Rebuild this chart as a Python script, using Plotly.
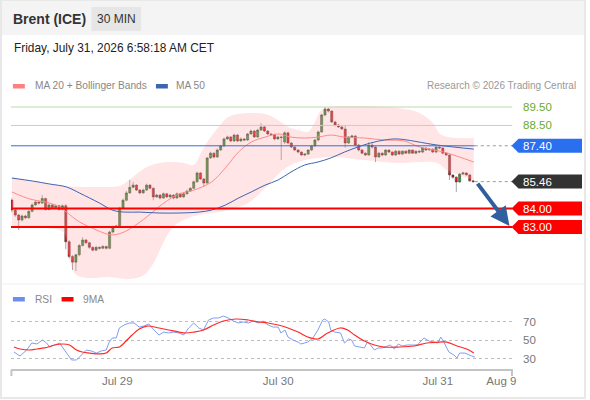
import plotly.graph_objects as go

# ---- candles (30 min bars, index 0 = first bar on the chart) ----
opens = [84.46, 83.92, 83.65, 83.38, 83.60, 83.50, 83.85, 84.20, 84.35, 84.30,
         84.55, 83.95, 84.20, 84.05, 84.15, 83.95, 84.15, 82.20, 81.40, 81.10,
         81.50, 82.00, 82.30, 82.15, 81.90, 81.75, 81.90, 81.85, 81.95, 81.85,
         82.73, 83.00, 83.05, 84.03, 84.45, 84.85, 85.15, 85.27, 85.00, 84.85,
         85.00, 85.27, 85.10, 84.63, 84.73, 84.57, 84.80, 84.63, 84.73, 84.57,
         84.80, 84.63, 84.80, 84.95, 85.10, 85.45, 85.93, 85.60, 85.38, 86.74,
         87.00, 86.79, 87.17, 87.39, 87.77, 87.88, 87.66, 87.98, 87.66, 87.77,
         87.71, 88.04, 88.20, 87.88, 88.25, 88.42, 88.20, 88.04, 88.00, 87.77,
         87.88, 87.60, 88.10, 87.55, 87.33, 87.17, 87.06, 86.90, 86.95, 87.17,
         87.39, 87.71, 88.15, 89.07, 89.39, 89.28, 88.69, 88.52, 88.42, 88.31,
         87.55, 87.88, 87.93, 87.44, 87.17, 87.00, 86.90, 87.44, 87.33, 86.79,
         87.00, 86.90, 87.17, 87.06, 86.90, 87.11, 86.95, 87.11, 87.00, 87.17,
         87.00, 87.11, 87.06, 87.28, 87.17, 87.22, 87.06, 87.33, 87.28, 87.00,
         86.90, 85.82, 85.70, 85.44, 85.87, 85.93, 85.82, 85.50]
highs = [84.55, 84.00, 83.70, 83.68, 83.66, 83.92, 84.28, 84.45, 84.42, 84.73,
         84.58, 84.28, 84.25, 84.22, 84.20, 84.22, 84.25, 82.30, 81.48, 81.55,
         82.08, 82.45, 82.36, 82.20, 81.95, 81.98, 81.95, 82.02, 81.98, 82.80,
         83.08, 83.12, 84.08, 84.55, 84.95, 85.55, 85.45, 85.32, 85.05, 85.08,
         85.35, 85.32, 85.15, 84.80, 84.78, 84.88, 84.85, 84.80, 84.78, 84.88,
         84.85, 84.86, 85.02, 85.15, 85.52, 86.00, 85.98, 85.65, 86.80, 87.08,
         87.05, 87.25, 87.45, 87.85, 87.95, 87.92, 88.05, 88.05, 87.85, 87.82,
         88.10, 88.28, 88.25, 88.32, 88.63, 88.48, 88.25, 88.10, 88.05, 87.95,
         87.95, 88.18, 88.15, 87.60, 87.38, 87.22, 87.10, 87.00, 87.22, 87.45,
         87.78, 88.22, 89.12, 89.50, 89.45, 89.32, 88.75, 88.58, 88.48, 88.52,
         87.93, 88.00, 87.98, 87.50, 87.22, 87.05, 87.60, 87.55, 87.38, 87.08,
         87.05, 87.22, 87.20, 87.10, 87.18, 87.15, 87.16, 87.15, 87.22, 87.20,
         87.15, 87.15, 87.33, 87.30, 87.27, 87.26, 87.38, 87.36, 87.33, 87.05,
         86.95, 85.85, 85.75, 85.92, 86.00, 85.97, 85.88, 85.55]
lows = [83.80, 83.55, 82.84, 83.30, 83.42, 83.45, 83.80, 84.15, 84.22, 84.25,
        83.88, 83.90, 84.00, 84.00, 83.88, 83.90, 81.80, 81.30, 80.67, 80.62,
        81.42, 81.95, 82.08, 81.82, 81.68, 81.70, 81.78, 81.80, 81.78, 81.80,
        82.65, 82.95, 83.00, 83.98, 84.40, 84.80, 85.10, 84.95, 84.78, 84.80,
        84.95, 85.05, 84.45, 84.58, 84.50, 84.52, 84.58, 84.58, 84.50, 84.52,
        84.58, 84.58, 84.75, 84.90, 85.05, 85.40, 85.55, 85.17, 85.35, 86.70,
        86.72, 86.75, 87.12, 87.35, 87.72, 87.60, 87.60, 87.60, 87.60, 87.65,
        87.66, 88.00, 87.82, 87.82, 88.20, 88.15, 87.98, 87.95, 87.70, 87.72,
        86.63, 87.50, 87.50, 87.28, 87.12, 87.00, 86.85, 86.84, 86.90, 87.12,
        87.35, 87.65, 88.10, 89.00, 89.20, 88.64, 88.45, 88.36, 88.26, 87.30,
        87.50, 87.82, 87.38, 87.10, 86.95, 86.85, 86.86, 87.25, 86.52, 86.75,
        86.84, 86.85, 87.00, 86.84, 86.85, 86.90, 86.90, 86.95, 86.95, 86.96,
        86.95, 87.00, 87.00, 87.12, 87.12, 87.00, 87.00, 87.22, 86.95, 86.85,
        85.55, 85.62, 84.90, 85.40, 85.82, 85.78, 85.45, 85.40]
closes = [83.92, 83.65, 83.38, 83.60, 83.50, 83.85, 84.20, 84.35, 84.30, 84.55,
          83.95, 84.20, 84.05, 84.15, 83.95, 84.15, 82.20, 81.40, 81.10, 81.50,
          82.00, 82.30, 82.15, 81.90, 81.75, 81.90, 81.85, 81.95, 81.85, 82.73,
          83.00, 83.05, 84.03, 84.45, 84.85, 85.15, 85.27, 85.00, 84.85, 85.00,
          85.27, 85.10, 84.63, 84.73, 84.57, 84.80, 84.63, 84.73, 84.57, 84.80,
          84.63, 84.80, 84.95, 85.10, 85.45, 85.93, 85.60, 85.38, 86.74, 87.00,
          86.79, 87.17, 87.39, 87.77, 87.88, 87.66, 87.98, 87.66, 87.77, 87.71,
          88.04, 88.20, 87.88, 88.25, 88.42, 88.20, 88.04, 88.00, 87.77, 87.88,
          87.85, 88.10, 87.55, 87.33, 87.17, 87.06, 86.90, 86.95, 87.17, 87.39,
          87.71, 88.15, 89.07, 89.39, 89.28, 88.69, 88.52, 88.42, 88.31, 87.55,
          87.88, 87.93, 87.44, 87.17, 87.00, 86.90, 87.44, 87.33, 86.79, 87.00,
          86.90, 87.17, 87.06, 86.90, 87.11, 86.95, 87.11, 87.00, 87.17, 87.00,
          87.11, 87.06, 87.28, 87.17, 87.22, 87.06, 87.33, 87.28, 87.00, 86.90,
          85.82, 85.70, 85.44, 85.87, 85.93, 85.82, 85.50, 85.46]
bars = list(range(len(closes)))

# ---- overlays (bar index, price) ----
bb_up_x = [0, 6.2, 16.2, 20.9, 26, 31.9, 34.8, 37.8, 40.7, 43.7, 47.2, 51, 54,
           56.3, 58.4, 61.4, 64.3, 70.2, 75.2, 78.5, 82, 85, 87.9, 90, 91.7,
           94.7, 102.7, 114.5, 120.4, 124.8, 127.7, 137.2]
bb_up = [85.71, 85.49, 85.22, 85.17, 85.17, 85.22, 85.55, 85.98, 86.30, 86.47,
         86.52, 86.47, 86.36, 87.06, 87.71, 88.42, 88.96, 89.17, 89.12, 88.85,
         88.42, 88.25, 88.15, 88.69, 89.28, 89.50, 89.55, 89.45, 89.23, 88.69,
         87.98, 87.82]
bb_lo_x = [0, 8.3, 14.2, 15.9, 17.1, 18.9, 23, 28.9, 34.8, 39.2, 42.2, 45.1,
           48.1, 52.5, 55.5, 64.3, 70.2, 75.2, 80.5, 85, 94.7, 104.7, 114.5,
           126.3, 129.2, 137.2]
bb_lo = [83.00, 82.95, 82.84, 82.57, 81.32, 80.45, 80.24, 80.29, 80.18, 80.40,
         81.10, 82.19, 83.05, 83.49, 83.65, 83.92, 84.30, 85.11, 86.09, 86.52,
         86.79, 86.63, 86.47, 86.47, 86.09, 85.55]
ma20_x = [0, 5.3, 11.2, 14.2, 16.2, 20.1, 24.5, 27.4, 29.8, 33.3, 36.3, 39.2,
          42.2, 45.1, 49.6, 54, 59.3, 63.4, 67.3, 71.1, 75.2, 79.1, 82.9, 87,
          90.9, 94.7, 98.8, 104.7, 110.6, 116.5, 121.2, 128.3, 137.2]
ma20 = [84.90, 84.52, 84.30, 84.08, 83.81, 83.27, 82.89, 82.67, 82.57, 82.73,
        83.05, 83.43, 83.87, 84.30, 84.79, 85.00, 85.44, 86.20, 87.06, 87.60,
        87.87, 88.04, 87.87, 87.82, 87.87, 87.98, 87.87, 87.82, 87.71, 87.66,
        87.33, 87.06, 86.52]
ma50_x = [0, 6.2, 11.2, 16.2, 20.1, 26, 29.8, 33.3, 37.8, 43.7, 49.6, 55.5,
          59.3, 63.4, 67.3, 71.1, 75.2, 79.1, 82.9, 87, 90.9, 94.7, 98.8,
          102.7, 106.5, 110.6, 114.5, 126.3, 137.2]
ma50 = [85.65, 85.49, 85.33, 85.17, 84.84, 84.30, 83.92, 83.81, 83.81, 83.76,
        83.76, 83.81, 83.92, 84.19, 84.57, 84.90, 85.27, 85.55, 85.98, 86.36,
        86.52, 86.74, 87.06, 87.33, 87.55, 87.71, 87.77, 87.44, 87.22]

# ---- RSI panel ----
rsi_x = [0.6, 2.4, 4.4, 5.9, 7.4, 9.1, 10.3, 11.2, 12.7, 14.2,
         15.0, 16.2, 17.7, 19.2, 20.6, 22.1, 23.6, 25.1, 26.5, 28.0,
         28.9, 29.8, 31.0, 31.9, 33.3, 34.8, 36.3, 37.8, 39.2, 40.7,
         42.2, 43.7, 45.1, 46.6, 48.1, 49.6, 51.0, 52.5, 54.0, 55.5,
         56.9, 58.4, 59.9, 61.4, 62.8, 64.3, 65.8, 67.3, 68.7, 70.2,
         71.7, 73.2, 74.6, 76.1, 77.6, 79.1, 79.9, 81.1, 82.0, 83.5,
         85.0, 85.8, 87.9, 89.4, 90.9, 92.3, 92.9, 94.1, 94.7, 95.9,
         97.6, 98.8, 100.0, 100.9, 101.8, 103.2, 104.7, 105.6, 106.5, 107.7,
         108.8, 110.0, 111.5, 112.4, 113.6, 114.8, 115.9, 117.4, 118.9, 120.4,
         122.4, 123.9, 125.4, 126.5, 127.4, 128.3, 129.8, 131.3, 132.2, 133.0,
         134.5, 135.7, 136.6, 137.5]
rsi = [37.0, 32.7, 39.2, 46.8, 45.7, 50.0, 46.8, 42.4, 44.6, 46.8,
       42.4, 35.9, 28.4, 28.4, 33.8, 39.2, 38.1, 35.9, 38.1, 39.2,
       47.8, 52.2, 52.2, 63.0, 66.2, 68.4, 68.4, 64.0, 65.1, 67.3,
       60.8, 55.4, 58.6, 57.6, 58.6, 57.6, 55.4, 63.0, 68.4, 63.0,
       60.8, 71.6, 73.8, 73.8, 75.9, 73.8, 70.5, 68.4, 69.5, 68.4,
       70.5, 68.4, 70.5, 66.2, 64.0, 64.0, 57.6, 60.8, 53.2, 50.0,
       47.8, 45.7, 47.8, 52.2, 60.8, 71.6, 72.7, 69.5, 60.8, 58.6,
       57.6, 46.8, 51.1, 50.0, 43.5, 42.4, 41.4, 47.8, 44.6, 39.2,
       41.4, 41.4, 43.5, 44.6, 40.3, 45.7, 43.5, 44.6, 44.6, 44.6,
       52.2, 48.9, 47.8, 46.8, 53.2, 47.8, 37.0, 33.8, 30.5, 35.9,
       35.9, 33.8, 32.7, 31.6]
rsi_ma_x = [0.6, 2.4, 5.3, 7.4, 9.7, 12.7, 15.0, 17.1, 19.2, 20.9, 23.0, 26.0,
            28.0, 29.8, 31.9, 33.9, 35.7, 37.8, 40.1, 43.7, 46.6, 49.6, 51.6,
            54.0, 56.9, 59.9, 62.8, 66.4, 70.2, 73.2, 76.1, 79.1, 82.0, 85.0,
            87.9, 90.9, 93.8, 97.6, 99.7, 101.8, 104.7, 107.7, 110.6, 114.5,
            119.5, 123.3, 127.1, 129.2, 132.2, 135.1, 137.2]
rsi_ma = [42.4, 40.3, 39.2, 40.3, 41.4, 44.6, 45.7, 44.6, 39.2, 37.0, 35.9, 34.9,
          35.9, 41.4, 42.4, 48.9, 55.4, 61.9, 65.1, 63.0, 60.8, 58.6, 57.6,
          58.6, 60.8, 66.2, 70.5, 72.7, 71.6, 69.5, 68.4, 66.2, 63.0, 58.6,
          53.2, 51.1, 57.6, 63.0, 60.8, 55.4, 48.9, 44.6, 42.4, 42.4,
          43.5, 46.8, 47.8, 47.8, 43.5, 40.3, 35.9]
rsi_levels = [30, 50, 70]

# ---- levels and axis labels ----
resist = [89.50, 88.50]
pivot = 87.40
last_price = 85.46
support = [84.00, 83.00]
tick_pos = [31.3, 79.1, 126.5, 145.4]
tick_text = ["Jul 29", "Jul 30", "Jul 31", "Aug 9"]

W, H = 590, 400
FONT = "Liberation Sans, Arial, sans-serif"
X0, X1 = -0.3, 148.7
LAST = 137.5


def px(x):
    return x / W


def py(y):
    return 1 - y / H


fig = go.Figure()

fig.add_trace(go.Scatter(x=bb_up_x, y=bb_up, mode="lines", line=dict(width=0, shape="spline"),
                         hoverinfo="skip", showlegend=False))
fig.add_trace(go.Scatter(x=bb_lo_x, y=bb_lo, mode="lines", line=dict(width=0, shape="spline"),
                         fill="tonexty", fillcolor="rgba(255,160,160,0.28)",
                         hoverinfo="skip", showlegend=False))
fig.add_trace(go.Scatter(x=ma20_x, y=ma20, mode="lines",
                         line=dict(color="#ff8a8a", width=1, shape="spline"), showlegend=False))
fig.add_trace(go.Scatter(x=ma50_x, y=ma50, mode="lines",
                         line=dict(color="#3d65b0", width=1, shape="spline"), showlegend=False))
fig.add_trace(go.Candlestick(
    x=bars, open=opens, high=highs, low=lows, close=closes,
    increasing=dict(fillcolor="#2e9a2e", line=dict(color="#333333", width=0.45)),
    decreasing=dict(fillcolor="#f01418", line=dict(color="#333333", width=0.45)),
    whiskerwidth=0, showlegend=False, hoverinfo="skip"))

fig.add_trace(go.Scatter(x=rsi_x, y=rsi, mode="lines", yaxis="y2",
                         line=dict(color="#7f9ef0", width=1), showlegend=False))
fig.add_trace(go.Scatter(x=rsi_ma_x, y=rsi_ma, mode="lines", yaxis="y2",
                         line=dict(color="#ff2a2a", width=1.2, shape="spline"), showlegend=False))

shapes = []
ann = []

# header band, frame, separator
shapes.append(dict(type="rect", xref="paper", yref="paper", x0=0, x1=1, y0=py(35), y1=1,
                   fillcolor="#f4f4f4", line=dict(width=0), layer="below"))
shapes.append(dict(type="rect", xref="paper", yref="paper", x0=px(92), x1=px(142), y0=py(31), y1=py(7),
                   fillcolor="#e6e6e6", line=dict(width=0), layer="below"))
shapes.append(dict(type="rect", xref="paper", yref="paper", x0=px(1), x1=px(589), y0=py(398), y1=py(0),
                   line=dict(color="#e8e8e8", width=2)))
shapes.append(dict(type="line", xref="paper", yref="paper", x0=px(2), x1=px(588), y0=py(284), y1=py(284),
                   line=dict(color="#f0f0f0", width=1)))

# resistance / support lines
for r in resist:
    shapes.append(dict(type="line", xref="x", yref="y", x0=X0, x1=X1, y0=r, y1=r,
                       line=dict(color="#b9dba4", width=1)))
    ann.append(dict(x=px(525), xref="paper", y=r, yref="y", text=f"{r:.2f}", showarrow=False,
                    xanchor="left", font=dict(color="#6aaa34", size=11.5, family=FONT)))
shapes.append(dict(type="line", xref="x", yref="y", x0=X0, x1=LAST, y0=pivot, y1=pivot,
                   line=dict(color="#2f6fe6", width=1)))
for lv in [pivot, last_price]:
    shapes.append(dict(type="line", xref="x", yref="y", x0=LAST, x1=X1, y0=lv, y1=lv,
                       line=dict(color="#999999", width=1, dash="dot")))
for s in support:
    shapes.append(dict(type="line", xref="x", yref="y", x0=X0, x1=X1, y0=s, y1=s,
                       line=dict(color="#ff0000", width=2)))

# price tags
half = 7 / 18.46
for lv, col in [(pivot, "#2a6ff0"), (last_price, "#333333"), (support[0], "#ff0000"), (support[1], "#ff0000")]:
    path = (f"M {px(515)},{lv} L {px(522)},{lv + half} L {px(586)},{lv + half} "
            f"L {px(586)},{lv - half} L {px(522)},{lv - half} Z")
    shapes.append(dict(type="path", xref="paper", yref="y", path=path, fillcolor=col, line=dict(width=0)))
    ann.append(dict(x=px(525), xref="paper", y=lv, yref="y", text=f"{lv:.2f}", showarrow=False,
                    xanchor="left", font=dict(color="white", size=11.5, family=FONT)))

# forecast arrow
ann.append(dict(x=147.8, y=83.05, xref="x", yref="y", ax=-33, ay=-44, text="", showarrow=True,
                arrowhead=2, arrowsize=0.95, arrowwidth=4, arrowcolor="#2f5f9e", standoff=0))

# rsi labels
for v in rsi_levels:
    ann.append(dict(x=px(525), xref="paper", y=v, yref="y2", text=str(v), showarrow=False,
                    xanchor="left", font=dict(color="#777777", size=11.5, family=FONT)))

# x axis end ticks
for xe in [11.5, 515.5]:
    shapes.append(dict(type="line", xref="paper", yref="paper", x0=px(xe), x1=px(xe), y0=py(370), y1=py(376),
                       line=dict(color="#c4c4c4", width=2)))

# legends
for x0, col, label, tx, ty in [(13, "#ff8080", "MA 20 + Bollinger Bands", 33, 86),
                               (157, "#3d65b0", "MA 50", 175, 86),
                               (13, "#6f8ff0", "RSI", 33, 299),
                               (62, "#ff0000", "9MA", 82, 299)]:
    shapes.append(dict(type="rect", xref="paper", yref="paper", x0=px(x0), x1=px(x0 + 12),
                       y0=py(ty + 2.5), y1=py(ty - 2), fillcolor=col, line=dict(width=0)))
    ann.append(dict(x=px(tx), y=py(ty), xref="paper", yref="paper", text=label, showarrow=False,
                    xanchor="left", yanchor="middle", font=dict(color="#888888", size=10.2, family=FONT)))

ann.append(dict(x=px(582), y=py(86), xref="paper", yref="paper", text="Research © 2026 Trading Central",
                showarrow=False, xanchor="right", yanchor="middle",
                font=dict(color="#999999", size=10, family=FONT)))
ann.append(dict(x=px(11), y=py(19), xref="paper", yref="paper", text="<b>Brent (ICE)</b>",
                showarrow=False, xanchor="left", yanchor="middle",
                font=dict(color="#333333", size=14, family=FONT)))
ann.append(dict(x=px(117), y=py(19), xref="paper", yref="paper", text="30 MIN",
                showarrow=False, xanchor="center", yanchor="middle",
                font=dict(color="#333333", size=12, family=FONT)))
ann.append(dict(x=px(12), y=py(48), xref="paper", yref="paper", text="Friday, July 31, 2026 6:58:18 AM CET",
                showarrow=False, xanchor="left", yanchor="middle",
                font=dict(color="#222222", size=11.9, family=FONT)))

fig.update_layout(
    width=W, height=H,
    margin=dict(l=0, r=0, t=0, b=0),
    paper_bgcolor="white", plot_bgcolor="rgba(0,0,0,0)",
    showlegend=False,
    boxgap=0.08,
    font=dict(family=FONT),
    xaxis=dict(domain=[px(11), px(516)], range=[X0, X1], anchor="free", position=py(370),
               showline=True, linecolor="#c4c4c4", linewidth=2, showgrid=False, zeroline=False,
               tickvals=tick_pos, ticktext=tick_text, ticks="",
               tickfont=dict(color="#777777", size=11.5, family=FONT),
               rangeslider=dict(visible=False), fixedrange=True),
    yaxis=dict(domain=[py(283), py(95)], range=[79.97, 90.15], visible=False, fixedrange=True),
    yaxis2=dict(domain=[py(366), py(308)], range=[21.9, 84.6], showticklabels=False, ticks="",
                tickvals=rsi_levels, showgrid=True, gridcolor="#bdbdbd", griddash="dot",
                zeroline=False, showline=False, anchor="x", fixedrange=True),
    shapes=shapes,
    annotations=ann,
)

fig.write_html("out.html", config={"displayModeBar": False},
               post_script="document.body.style.margin='0px';document.body.style.overflow='hidden';")
